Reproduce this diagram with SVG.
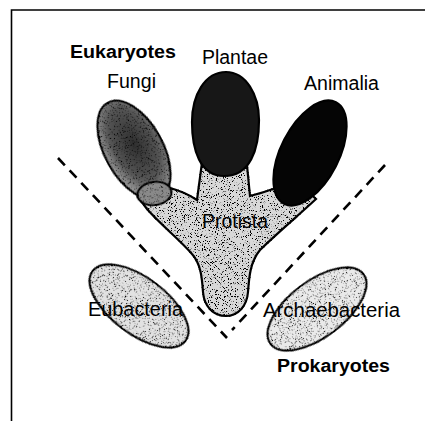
<svg xmlns="http://www.w3.org/2000/svg" width="425" height="421" viewBox="0 0 425 421">
<defs>
<style>
.txt{font-family:"Liberation Sans",Arial,sans-serif;font-size:19.5px;fill:#000}
.bold{font-weight:bold;font-size:18px}
.shape{stroke:#000;stroke-width:2.2}
.dash{stroke:#000;stroke-width:2.6;fill:none;stroke-dasharray:10 7}
.frame{stroke:#000;stroke-width:1.6;fill:none}
</style>
<radialGradient id="fungiGrad" cx="0.55" cy="0.45" r="0.6">
<stop offset="0" stop-color="#2e2e2e"/>
<stop offset="0.6" stop-color="#555"/>
<stop offset="1" stop-color="#a8a8a8"/>
</radialGradient>
<filter id="speck">
<feTurbulence type="fractalNoise" baseFrequency="0.85" numOctaves="2" seed="7" result="n"/>
<feColorMatrix in="n" type="matrix" values="0 0 0 0 0  0 0 0 0 0  0 0 0 0 0  12 0 0 0 -7" result="d"/>
<feComposite in="d" in2="SourceAlpha" operator="in" result="dm"/>
<feMerge><feMergeNode in="SourceGraphic"/><feMergeNode in="dm"/></feMerge>
</filter>
<filter id="speckLight">
<feTurbulence type="fractalNoise" baseFrequency="0.85" numOctaves="2" seed="3" result="n"/>
<feColorMatrix in="n" type="matrix" values="0 0 0 0 0  0 0 0 0 0  0 0 0 0 0  14 0 0 0 -8.2" result="d"/>
<feComposite in="d" in2="SourceAlpha" operator="in" result="dm"/>
<feMerge><feMergeNode in="SourceGraphic"/><feMergeNode in="dm"/></feMerge>
</filter>
</defs>
<rect width="425" height="421" fill="#fff"/>
<g id="frame">
<path class="frame" d="M11.5,421 L11.5,10 L425,10"/>
</g>
<g id="protista">
<path class="shape" fill="#d8d8d8" filter="url(#speck)" d="M150,192 L170,188 Q185,192 197,200 L203,155 L246,155 L250,196 Q262,193 276,188 L296,180 L316,199 C300,214 275,235 260,250 C250,262 249,278 248,292 C247,306 238,316 226,316 C213,316 204,306 203,292 C202,278 201,264 192,254 C180,240 160,224 147,209 L138,197 Z"/>
<text class="txt" x="202" y="228" textLength="66" lengthAdjust="spacingAndGlyphs">Protista</text>
</g>
<g id="fungi">
<ellipse class="shape" fill="url(#fungiGrad)" filter="url(#speck)" cx="134" cy="150" rx="29" ry="54" transform="rotate(-29 134 150)"/>
<ellipse class="shape" fill="#8a8a8a" filter="url(#speck)" cx="154.5" cy="193.5" rx="17" ry="11.5" transform="rotate(-8 154.5 193.5)"/>
<text class="txt" x="107" y="88" textLength="49" lengthAdjust="spacingAndGlyphs">Fungi</text>
</g>
<g id="plantae">
<path class="shape" fill="#171717" d="M226,72 C246,72 259,95 259,120 C259,150 250,176 224,176 C200,176 192,150 192,122 C192,95 205,72 226,72 Z"/>
<text class="txt" x="202" y="64" textLength="66" lengthAdjust="spacingAndGlyphs">Plantae</text>
</g>
<g id="animalia">
<ellipse class="shape" fill="#050505" cx="310" cy="153" rx="29" ry="57" transform="rotate(27 310 153)"/>
<text class="txt" x="304" y="90" textLength="75" lengthAdjust="spacingAndGlyphs">Animalia</text>
</g>
<g id="eubacteria">
<ellipse class="shape" fill="#e2e2e2" filter="url(#speckLight)" cx="139" cy="306" rx="58" ry="28" transform="rotate(37 139 306)"/>
<text class="txt" x="88" y="316" textLength="95" lengthAdjust="spacingAndGlyphs">Eubacteria</text>
</g>
<g id="archaebacteria">
<ellipse class="shape" fill="#eaeaea" filter="url(#speckLight)" cx="317" cy="309" rx="58" ry="28" transform="rotate(-37 317 309)"/>
<text class="txt" x="263" y="317" textLength="137" lengthAdjust="spacingAndGlyphs">Archaebacteria</text>
</g>
<g id="connectors">
<line class="dash" x1="58" y1="158" x2="227" y2="338"/>
<line class="dash" x1="385" y1="165" x2="232" y2="330"/>
</g>
<g id="labels">
<text class="txt bold" x="70" y="58" textLength="106" lengthAdjust="spacingAndGlyphs">Eukaryotes</text>
<text class="txt bold" x="277" y="372" textLength="113" lengthAdjust="spacingAndGlyphs">Prokaryotes</text>
</g>
</svg>
